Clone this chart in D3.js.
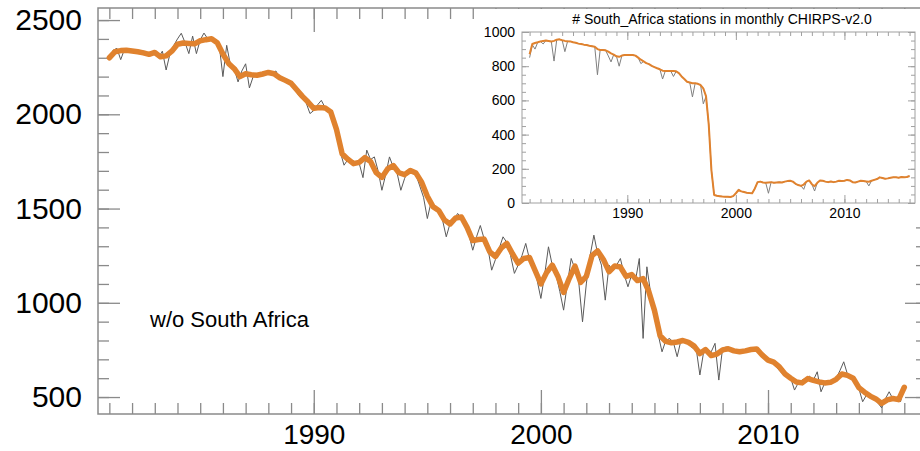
<!DOCTYPE html>
<html>
<head>
<meta charset="utf-8">
<script src="https://cdn.jsdelivr.net/npm/d3@7"></script>
<style>
  html, body { margin: 0; padding: 0; background: #fff; }
  svg { display: block; }
  text { font-family: "Liberation Sans", Arial, Helvetica, sans-serif; fill: #000; }
</style>
</head>
<body>
<svg id="chart" width="920" height="451"></svg>
<script>
// ---------------- DATA ----------------
// Main panel: number of stations w/o South Africa
const mainStartYear = 1981;
// raw counts every 2 months, 1981.0 .. 2016.0
const mainRaw = [
  2300, 2340, 2350, 2290, 2345, 2335,   // 1981
  2330, 2345, 2325, 2335, 2315, 2320,   // 1982
  2320, 2300, 2335, 2235, 2320, 2365,   // 1983
  2400, 2430, 2380, 2322, 2415, 2322,   // 1984
  2395, 2431, 2400, 2410, 2395, 2370,   // 1985
  2200, 2366, 2260, 2240, 2172, 2230,   // 1986
  2268, 2140, 2200, 2215, 2210, 2225,   // 1987
  2230, 2215, 2230, 2190, 2175, 2172,   // 1988
  2165, 2140, 2100, 2080, 2060, 2004,   // 1989
  2020, 2050, 2074, 2035, 2010, 1990,   // 1990
  1900, 1800, 1730, 1760, 1745, 1735,   // 1991
  1740, 1664, 1810, 1760, 1774, 1700,   // 1992
  1597, 1680, 1774, 1720, 1690, 1597,   // 1993
  1660, 1703, 1700, 1680, 1620, 1560,   // 1994
  1447, 1535, 1500, 1480, 1440, 1350,   // 1995
  1420, 1440, 1474, 1450, 1410, 1360,   // 1996
  1279, 1350, 1410, 1340, 1290, 1173,   // 1997
  1230, 1290, 1350, 1320, 1250, 1156,   // 1998
  1200, 1250, 1315, 1230, 1190, 1120,   // 1999
  1023, 1150, 1297, 1200, 1150, 1060,   // 2000
   961, 1100, 1235, 1180, 1110,  899,   // 2001
  1100, 1250, 1359, 1260, 1200, 1014,   // 2002
  1200, 1170, 1200, 1235, 1150, 1085,   // 2003
  1150, 1120, 1235,  811, 1191, 1050,   // 2004
   950,  830,  740,  800,  811,  790,   // 2005
   714,  800,  797,  785,  760,  760,   // 2006
   617,  740,  750,  740,  785,  590,   // 2007
   760,  765,  745,  738,  745,  735,   // 2008
   745,  750,  760,  755,  730,  715,   // 2009
   700,  690,  665,  640,  620,  610,   // 2010
   600,  537,  575,  590,  600,  610,   // 2011
   590,  634,  528,  575,  580,  590,   // 2012
   600,  640,  687,  620,  600,  580,   // 2013
   545,  475,  510,  500,  495,  470,   // 2014
   443,  490,  528,  490,  500,  475,   // 2015
   560                                   // 2016
];
const mainRawPerYear = 6;

// smoothed counts, quarterly, 1981.0 .. 2016.0
const mainSmooth = [
  2300, 2332, 2338, 2340,   // 1981
  2336, 2332, 2326, 2318,   // 1982
  2328, 2305, 2310, 2335,   // 1983
  2372, 2378, 2376, 2374,   // 1984
  2390, 2396, 2401, 2380,   // 1985
  2320, 2270, 2242, 2200,   // 1986
  2215, 2210, 2207, 2214,   // 1987
  2222, 2215, 2194, 2180,   // 1988
  2165, 2130, 2095, 2065,   // 1989
  2032, 2036, 2034, 2012,   // 1990
  1920, 1790, 1762, 1738,   // 1991
  1745, 1770, 1750, 1690,   // 1992
  1665, 1710, 1728, 1690,   // 1993
  1680, 1702, 1688, 1640,   // 1994
  1565, 1510, 1490, 1440,   // 1995
  1418, 1450, 1455, 1400,   // 1996
  1330, 1336, 1338, 1270,   // 1997
  1245, 1290, 1315, 1260,   // 1998
  1210, 1235, 1240, 1170,   // 1999
  1100, 1160, 1200, 1140,   // 2000
  1055, 1130, 1195, 1108,   // 2001
  1140, 1250, 1275, 1230,   // 2002
  1165, 1195, 1190, 1140,   // 2003
  1150, 1118, 1128, 1060,   // 2004
   960,  825,  795,  788,   // 2005
   792,  800,  790,  770,   // 2006
   731,  752,  720,  728,   // 2007
   750,  756,  745,  740,   // 2008
   745,  752,  755,  722,   // 2009
   696,  685,  660,  622,   // 2010
   600,  580,  575,  598,   // 2011
   588,  580,  575,  578,   // 2012
   594,  622,  615,  600,   // 2013
   550,  526,  505,  490,   // 2014
   466,  485,  492,  486,   // 2015
   552                      // 2016
];
const mainSmoothPerYear = 4;

const mainYTicksMajor = [500, 1000, 1500, 2000, 2500];
const mainYTicksMinor = [500, 600, 700, 800, 900, 1000, 1100, 1200, 1300, 1400, 1500, 1600, 1700, 1800, 1900, 2000, 2100, 2200, 2300, 2400, 2500];
const mainXTicksMajor = [1990, 2000, 2010];
const mainXTicksMinor = d3.range(1981, 2017);
const mainLabel = "w/o South Africa";

// Inset: number of South Africa stations
const insetTitle = "# South_Africa stations in monthly CHIRPS-v2.0";
const insetStartYear = 1981;
const insetRaw = [
  850, 925, 900, 940,   // 1981
  945, 930, 950, 947,   // 1982
  944, 830, 955, 957,   // 1983
  952, 885, 946, 945,   // 1984
  940, 937, 932, 930,   // 1985
  926, 924, 920, 917,   // 1986
  914, 750, 895, 895,   // 1987
  893, 860, 825, 868,   // 1988
  858, 800, 862, 865,   // 1989
  865, 865, 866, 862,   // 1990
  850, 815, 828, 818,   // 1991
  812, 802, 795, 788,   // 1992
  782, 725, 772, 772,   // 1993
  772, 740, 770, 760,   // 1994
  740, 725, 709, 705,   // 1995
  620, 700, 697, 690,   // 1996
  580, 622, 460, 190,   // 1997
   47,  42,  40,  38,   // 1998
   37,  36,  35,  40,   // 1999
   57,  80,  68,  64,   // 2000
   60,  58,  57,  85,   // 2001
  122, 125, 120, 118,   // 2002
   57, 122, 118, 120,   // 2003
  122, 120, 125, 128,   // 2004
  130, 125, 112, 105,   // 2005
  100,  80, 125, 132,   // 2006
  110,  70, 118, 132,   // 2007
  130, 125, 122, 126,   // 2008
  122, 125, 130, 128,   // 2009
  130, 135, 132, 122,   // 2010
  120, 125, 130, 128,   // 2011
  126, 100, 130, 135,   // 2012
  140, 150, 146, 142,   // 2013
  144, 148, 150, 150,   // 2014
  148, 152, 150, 152,   // 2015
  158                   // 2016
];
const insetSmooth = [
  870, 930, 936, 940,   // 1981
  945, 948, 950, 947,   // 1982
  944, 948, 955, 957,   // 1983
  952, 948, 946, 945,   // 1984
  940, 937, 932, 930,   // 1985
  926, 924, 920, 917,   // 1986
  914, 900, 895, 895,   // 1987
  893, 885, 875, 868,   // 1988
  858, 855, 862, 865,   // 1989
  865, 865, 866, 862,   // 1990
  850, 838, 828, 818,   // 1991
  812, 802, 795, 788,   // 1992
  782, 774, 772, 772,   // 1993
  772, 772, 770, 760,   // 1994
  740, 725, 709, 705,   // 1995
  700, 700, 697, 690,   // 1996
  670, 625, 460, 190,   // 1997
   47,  42,  40,  38,   // 1998
   37,  36,  35,  40,   // 1999
   57,  76,  68,  64,   // 2000
   60,  58,  57,  85,   // 2001
  122, 125, 120, 118,   // 2002
  120, 122, 118, 120,   // 2003
  122, 120, 125, 128,   // 2004
  130, 125, 112, 105,   // 2005
  100, 108, 125, 132,   // 2006
  110,  98, 118, 132,   // 2007
  130, 125, 122, 126,   // 2008
  122, 125, 130, 128,   // 2009
  130, 135, 132, 122,   // 2010
  120, 125, 130, 128,   // 2011
  126, 124, 130, 135,   // 2012
  140, 150, 146, 142,   // 2013
  144, 148, 150, 150,   // 2014
  148, 152, 150, 152,   // 2015
  158                   // 2016
];
const insetPerYear = 4;
const insetYTicksMajor = [0, 200, 400, 600, 800, 1000];
const insetYTicksMinor = d3.range(0, 1001, 50);
const insetXTicksMajor = [1990, 2000, 2010];
const insetXTicksMinor = d3.range(1981, 2017);

// ---------------- DRAW ----------------
const svg = d3.select("#chart");
const FONT = '"Liberation Sans", Arial, Helvetica, sans-serif';
const ORANGE = "#E0822E";

// Main panel geometry
const M = { left: 98, right: 927, top: 8, bottom: 414 };
const x = d3.scaleLinear().domain([1980.5, 2017.0]).range([M.left, M.right]);
const y = d3.scaleLinear().domain([410, 2564]).range([M.bottom, M.top]);

const axisColor = "#8a8a8a";
function styleAxis(g, color, width, fontSize) {
  g.select(".domain").remove();
  g.selectAll(".tick line").attr("stroke", color).attr("stroke-width", width);
  g.selectAll(".tick text").attr("fill", "#000").style("font-family", FONT).style("font-size", fontSize + "px");
}

const main = svg.append("g");
// minor ticks
main.append("g").attr("transform", `translate(${M.left},0)`)
  .call(d3.axisLeft(y).tickValues(mainYTicksMinor).tickSize(-11).tickFormat(""))
  .call(g => styleAxis(g, axisColor, 1.3, 30));
main.append("g").attr("transform", `translate(${M.right},0)`)
  .call(d3.axisRight(y).tickValues(mainYTicksMinor).tickSize(-11).tickFormat(""))
  .call(g => styleAxis(g, axisColor, 1.3, 30));
main.append("g").attr("transform", `translate(0,${M.bottom})`)
  .call(d3.axisBottom(x).tickValues(mainXTicksMinor).tickSize(-11).tickFormat(""))
  .call(g => styleAxis(g, axisColor, 1.3, 30));
main.append("g").attr("transform", `translate(0,${M.top})`)
  .call(d3.axisTop(x).tickValues(mainXTicksMinor).tickSize(-11).tickFormat(""))
  .call(g => styleAxis(g, axisColor, 1.3, 30));
// major ticks + labels
main.append("g").attr("transform", `translate(${M.left},0)`)
  .call(d3.axisLeft(y).tickValues(mainYTicksMajor).tickSize(-22).tickPadding(16).tickFormat(d3.format("d")))
  .call(g => styleAxis(g, axisColor, 1.3, 30));
main.append("g").attr("transform", `translate(${M.right},0)`)
  .call(d3.axisRight(y).tickValues(mainYTicksMajor).tickSize(-22).tickFormat(""))
  .call(g => styleAxis(g, axisColor, 1.3, 30));
main.append("g").attr("transform", `translate(0,${M.bottom})`)
  .call(d3.axisBottom(x).tickValues(mainXTicksMajor).tickSize(-24).tickPadding(10).tickFormat(d3.format("d")))
  .call(g => styleAxis(g, axisColor, 1.3, 28));
main.append("g").attr("transform", `translate(0,${M.top})`)
  .call(d3.axisTop(x).tickValues(mainXTicksMajor).tickSize(-24).tickFormat(""))
  .call(g => styleAxis(g, axisColor, 1.3, 30));

// series
const mainRawPts = mainRaw.map((v, i) => ({ t: mainStartYear + i / mainRawPerYear, v }));
const mainSmoothPts = mainSmooth.map((v, i) => ({ t: mainStartYear + i / mainSmoothPerYear, v }));
const lineMain = d3.line().x(d => x(d.t)).y(d => y(d.v));
main.append("path").datum(mainRawPts).attr("d", lineMain)
  .attr("fill", "none").attr("stroke", "#5a5a5a").attr("stroke-width", 1);
main.append("path").datum(mainSmoothPts).attr("d", lineMain)
  .attr("fill", "none").attr("stroke", ORANGE).attr("stroke-width", 5.5)
  .attr("stroke-linejoin", "round").attr("stroke-linecap", "round");

main.append("text").attr("x", 150).attr("y", 327)
  .style("font-size", "22px").text(mainLabel);

// ---------------- INSET ----------------
svg.append("rect").attr("x", 478).attr("y", 9).attr("width", 450).attr("height", 213).attr("fill", "#fff");

// main frame (drawn after inset background so the top line stays visible)
svg.append("path")
  .attr("d", `M${M.right},${M.top}H${M.left}V${M.bottom}H${M.right}`)
  .attr("fill", "none").attr("stroke", axisColor).attr("stroke-width", 1.5);

const I = { left: 522, right: 915, top: 32, bottom: 203 };
const xi = d3.scaleLinear().domain([1980.3, 2016.5]).range([I.left, I.right]);
const yi = d3.scaleLinear().domain([0, 1000]).range([I.bottom, I.top]);
const insetAxisColor = "#a0a0a0";
const ig = svg.append("g");

ig.append("g").attr("transform", `translate(${I.left},0)`)
  .call(d3.axisLeft(yi).tickValues(insetYTicksMinor).tickSize(-4).tickFormat(""))
  .call(g => styleAxis(g, insetAxisColor, 1, 14));
ig.append("g").attr("transform", `translate(${I.right},0)`)
  .call(d3.axisRight(yi).tickValues(insetYTicksMinor).tickSize(-4).tickFormat(""))
  .call(g => styleAxis(g, insetAxisColor, 1, 14));
ig.append("g").attr("transform", `translate(0,${I.bottom})`)
  .call(d3.axisBottom(xi).tickValues(insetXTicksMinor).tickSize(-4).tickFormat(""))
  .call(g => styleAxis(g, insetAxisColor, 1, 14));
ig.append("g").attr("transform", `translate(0,${I.top})`)
  .call(d3.axisTop(xi).tickValues(insetXTicksMinor).tickSize(-4).tickFormat(""))
  .call(g => styleAxis(g, insetAxisColor, 1, 14));

ig.append("g").attr("transform", `translate(${I.left},0)`)
  .call(d3.axisLeft(yi).tickValues(insetYTicksMajor).tickSize(-7).tickPadding(7).tickFormat(d3.format("d")))
  .call(g => styleAxis(g, insetAxisColor, 1, 14));
ig.append("g").attr("transform", `translate(${I.right},0)`)
  .call(d3.axisRight(yi).tickValues(insetYTicksMajor).tickSize(-7).tickFormat(""))
  .call(g => styleAxis(g, insetAxisColor, 1, 14));
ig.append("g").attr("transform", `translate(0,${I.bottom})`)
  .call(d3.axisBottom(xi).tickValues(insetXTicksMajor).tickSize(-8).tickPadding(5).tickFormat(d3.format("d")))
  .call(g => styleAxis(g, insetAxisColor, 1, 14));
ig.append("g").attr("transform", `translate(0,${I.top})`)
  .call(d3.axisTop(xi).tickValues(insetXTicksMajor).tickSize(-8).tickFormat(""))
  .call(g => styleAxis(g, insetAxisColor, 1, 14));

ig.append("rect").attr("x", I.left).attr("y", I.top)
  .attr("width", I.right - I.left).attr("height", I.bottom - I.top)
  .attr("fill", "none").attr("stroke", insetAxisColor).attr("stroke-width", 1);

const insetRawPts = insetRaw.map((v, i) => ({ t: insetStartYear + i / insetPerYear, v }));
const insetSmoothPts = insetSmooth.map((v, i) => ({ t: insetStartYear + i / insetPerYear, v }));
const lineInset = d3.line().x(d => xi(d.t)).y(d => yi(d.v));
ig.append("path").datum(insetRawPts).attr("d", lineInset)
  .attr("fill", "none").attr("stroke", "#808080").attr("stroke-width", 1);
ig.append("path").datum(insetSmoothPts).attr("d", lineInset)
  .attr("fill", "none").attr("stroke", ORANGE).attr("stroke-width", 2)
  .attr("stroke-linejoin", "round");

ig.append("text").attr("x", 722).attr("y", 24).attr("text-anchor", "middle")
  .style("font-size", "14px").text(insetTitle);
</script>
</body>
</html>
